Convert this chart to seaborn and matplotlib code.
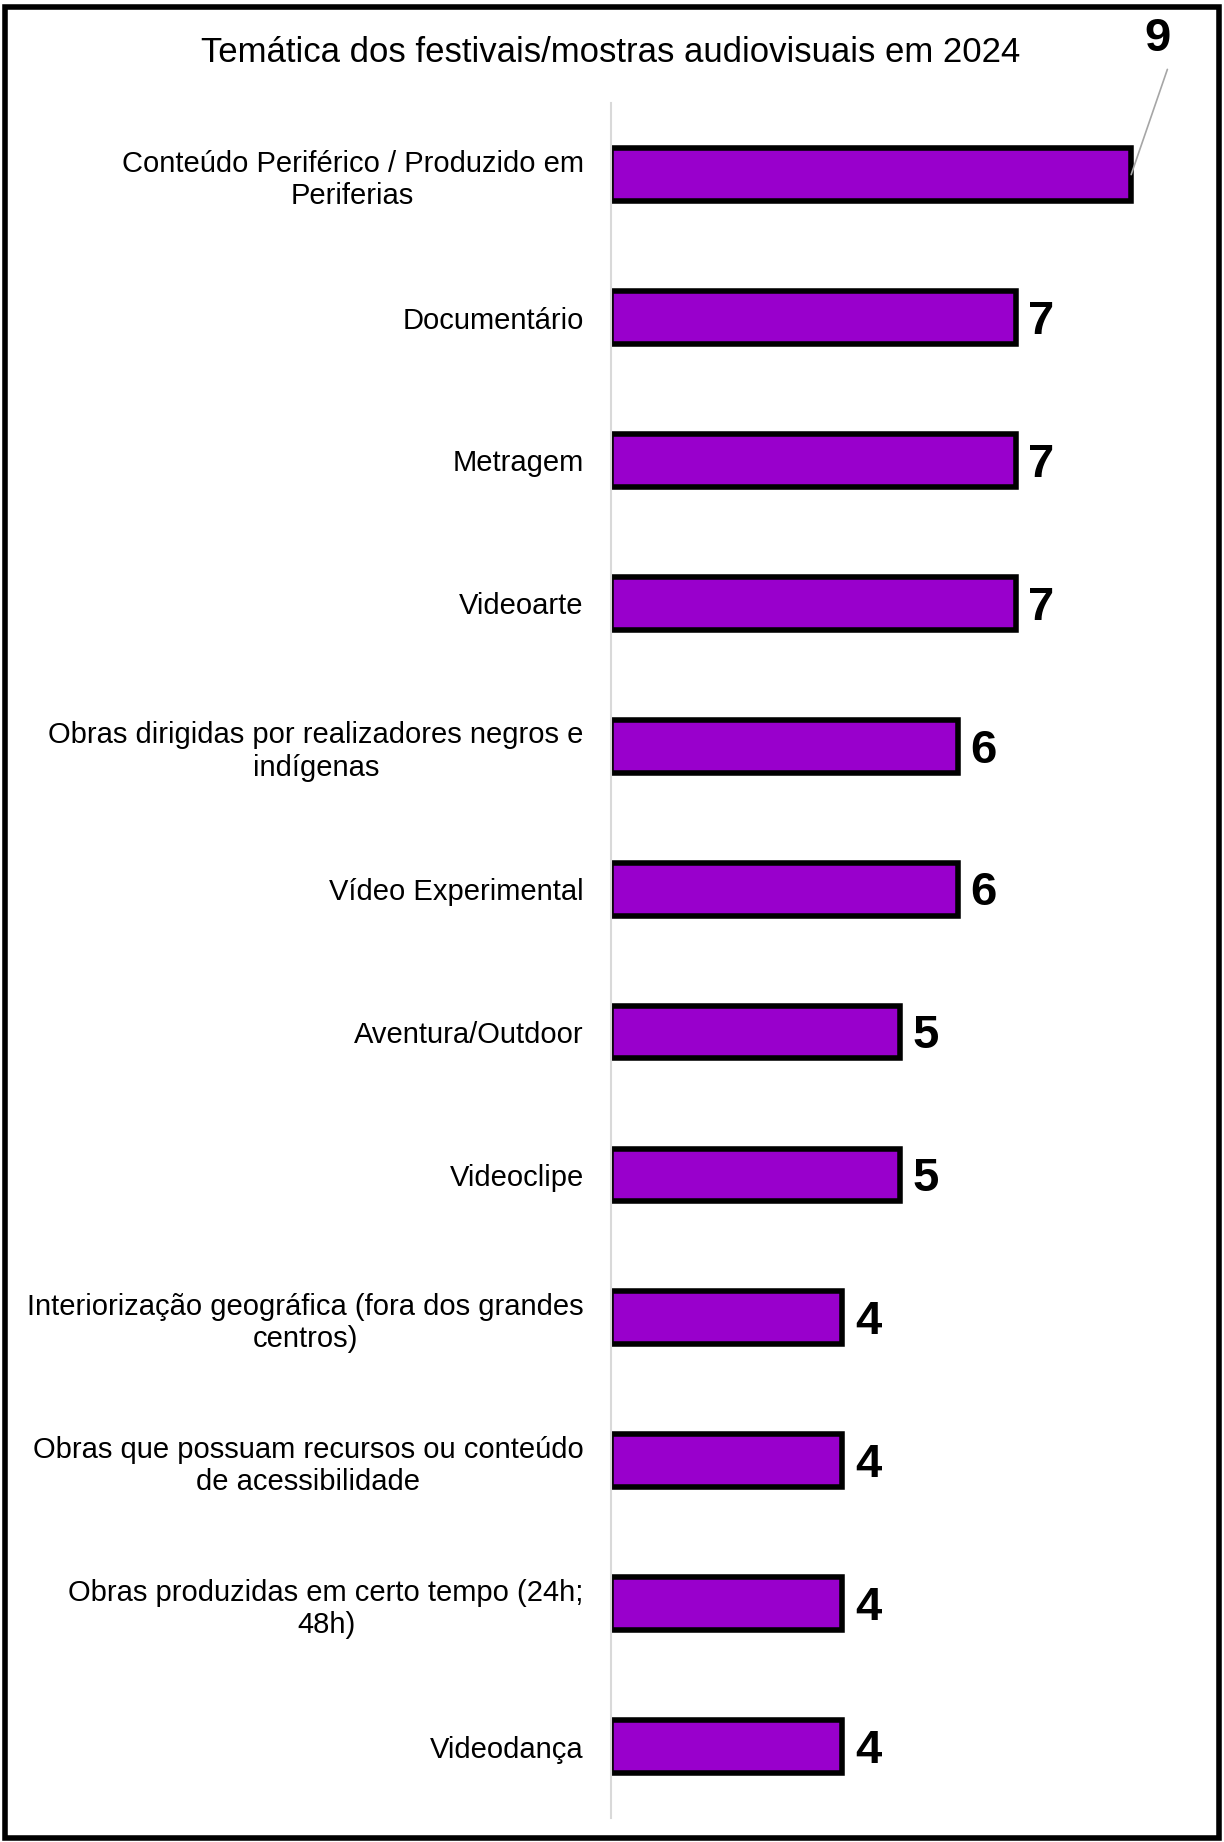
import pandas as pd
import matplotlib.pyplot as plt
import seaborn as sns
from matplotlib.patches import Rectangle

# Data
categories = [
    "Conteúdo Periférico / Produzido em\nPeriferias",
    "Documentário",
    "Metragem",
    "Videoarte",
    "Obras dirigidas por realizadores negros e\nindígenas",
    "Vídeo Experimental",
    "Aventura/Outdoor",
    "Videoclipe",
    "Interiorização geográfica (fora dos grandes\ncentros)",
    "Obras que possuam recursos ou conteúdo\nde acessibilidade",
    "Obras produzidas em certo tempo (24h;\n48h)",
    "Videodança",
]
values = [9, 7, 7, 7, 6, 6, 5, 5, 4, 4, 4, 4]
title = "Temática dos festivais/mostras audiovisuais em 2024"

df = pd.DataFrame({"tema": categories, "n": values})

sns.set_style("white")
plt.rcParams['font.family'] = ['Liberation Sans', 'DejaVu Sans']
plt.rcParams['text.color'] = 'black'
plt.rcParams['ytick.color'] = 'black'

fig = plt.figure(figsize=(12.24, 18.42), dpi=100)
ax = fig.add_axes([0.499, 0.013, 0.4724, 0.931])

sns.barplot(data=df, y="tema", x="n", orient="h", color="#9900CC",
            saturation=1, width=0.37, edgecolor="black", linewidth=4, ax=ax)

ax.set_xlim(0, 10)
ax.set_ylim(len(categories) - 0.5, -0.5)
ax.set_xlabel("")
ax.set_ylabel("")
ax.set_xticks([])
ax.tick_params(axis="y", length=0, pad=19.5, labelsize=21, labelcolor="black")
for lbl in ax.get_yticklabels():
    lbl.set_multialignment("center")

for s in ["top", "right", "bottom"]:
    ax.spines[s].set_visible(False)
ax.spines["left"].set_color("#d9d9d9")
ax.spines["left"].set_linewidth(1.5)

# value labels
for i, v in enumerate(values):
    if i == 0:
        ax.annotate(str(v), xy=(v, i), xytext=(v + 0.45, i - 0.95),
                    ha="center", va="center", fontsize=34, fontweight="bold",
                    color="black", annotation_clip=False,
                    arrowprops=dict(arrowstyle="-", color="#a6a6a6", lw=1.2,
                                    relpos=(1.0, 0.0), shrinkA=4, shrinkB=0))
    else:
        ax.text(v + 0.22, i + 0.03, str(v), ha="left", va="center",
                fontsize=34, fontweight="bold", color="black")

fig.text(0.499, 0.9715, title, ha="center", va="center", fontsize=25, color="black")

# outer frame
fig.patches.append(Rectangle((0.004, 0.002), 0.992, 0.994, transform=fig.transFigure,
                             fill=False, edgecolor="black", linewidth=4))

fig.savefig("out.png", dpi=100)
